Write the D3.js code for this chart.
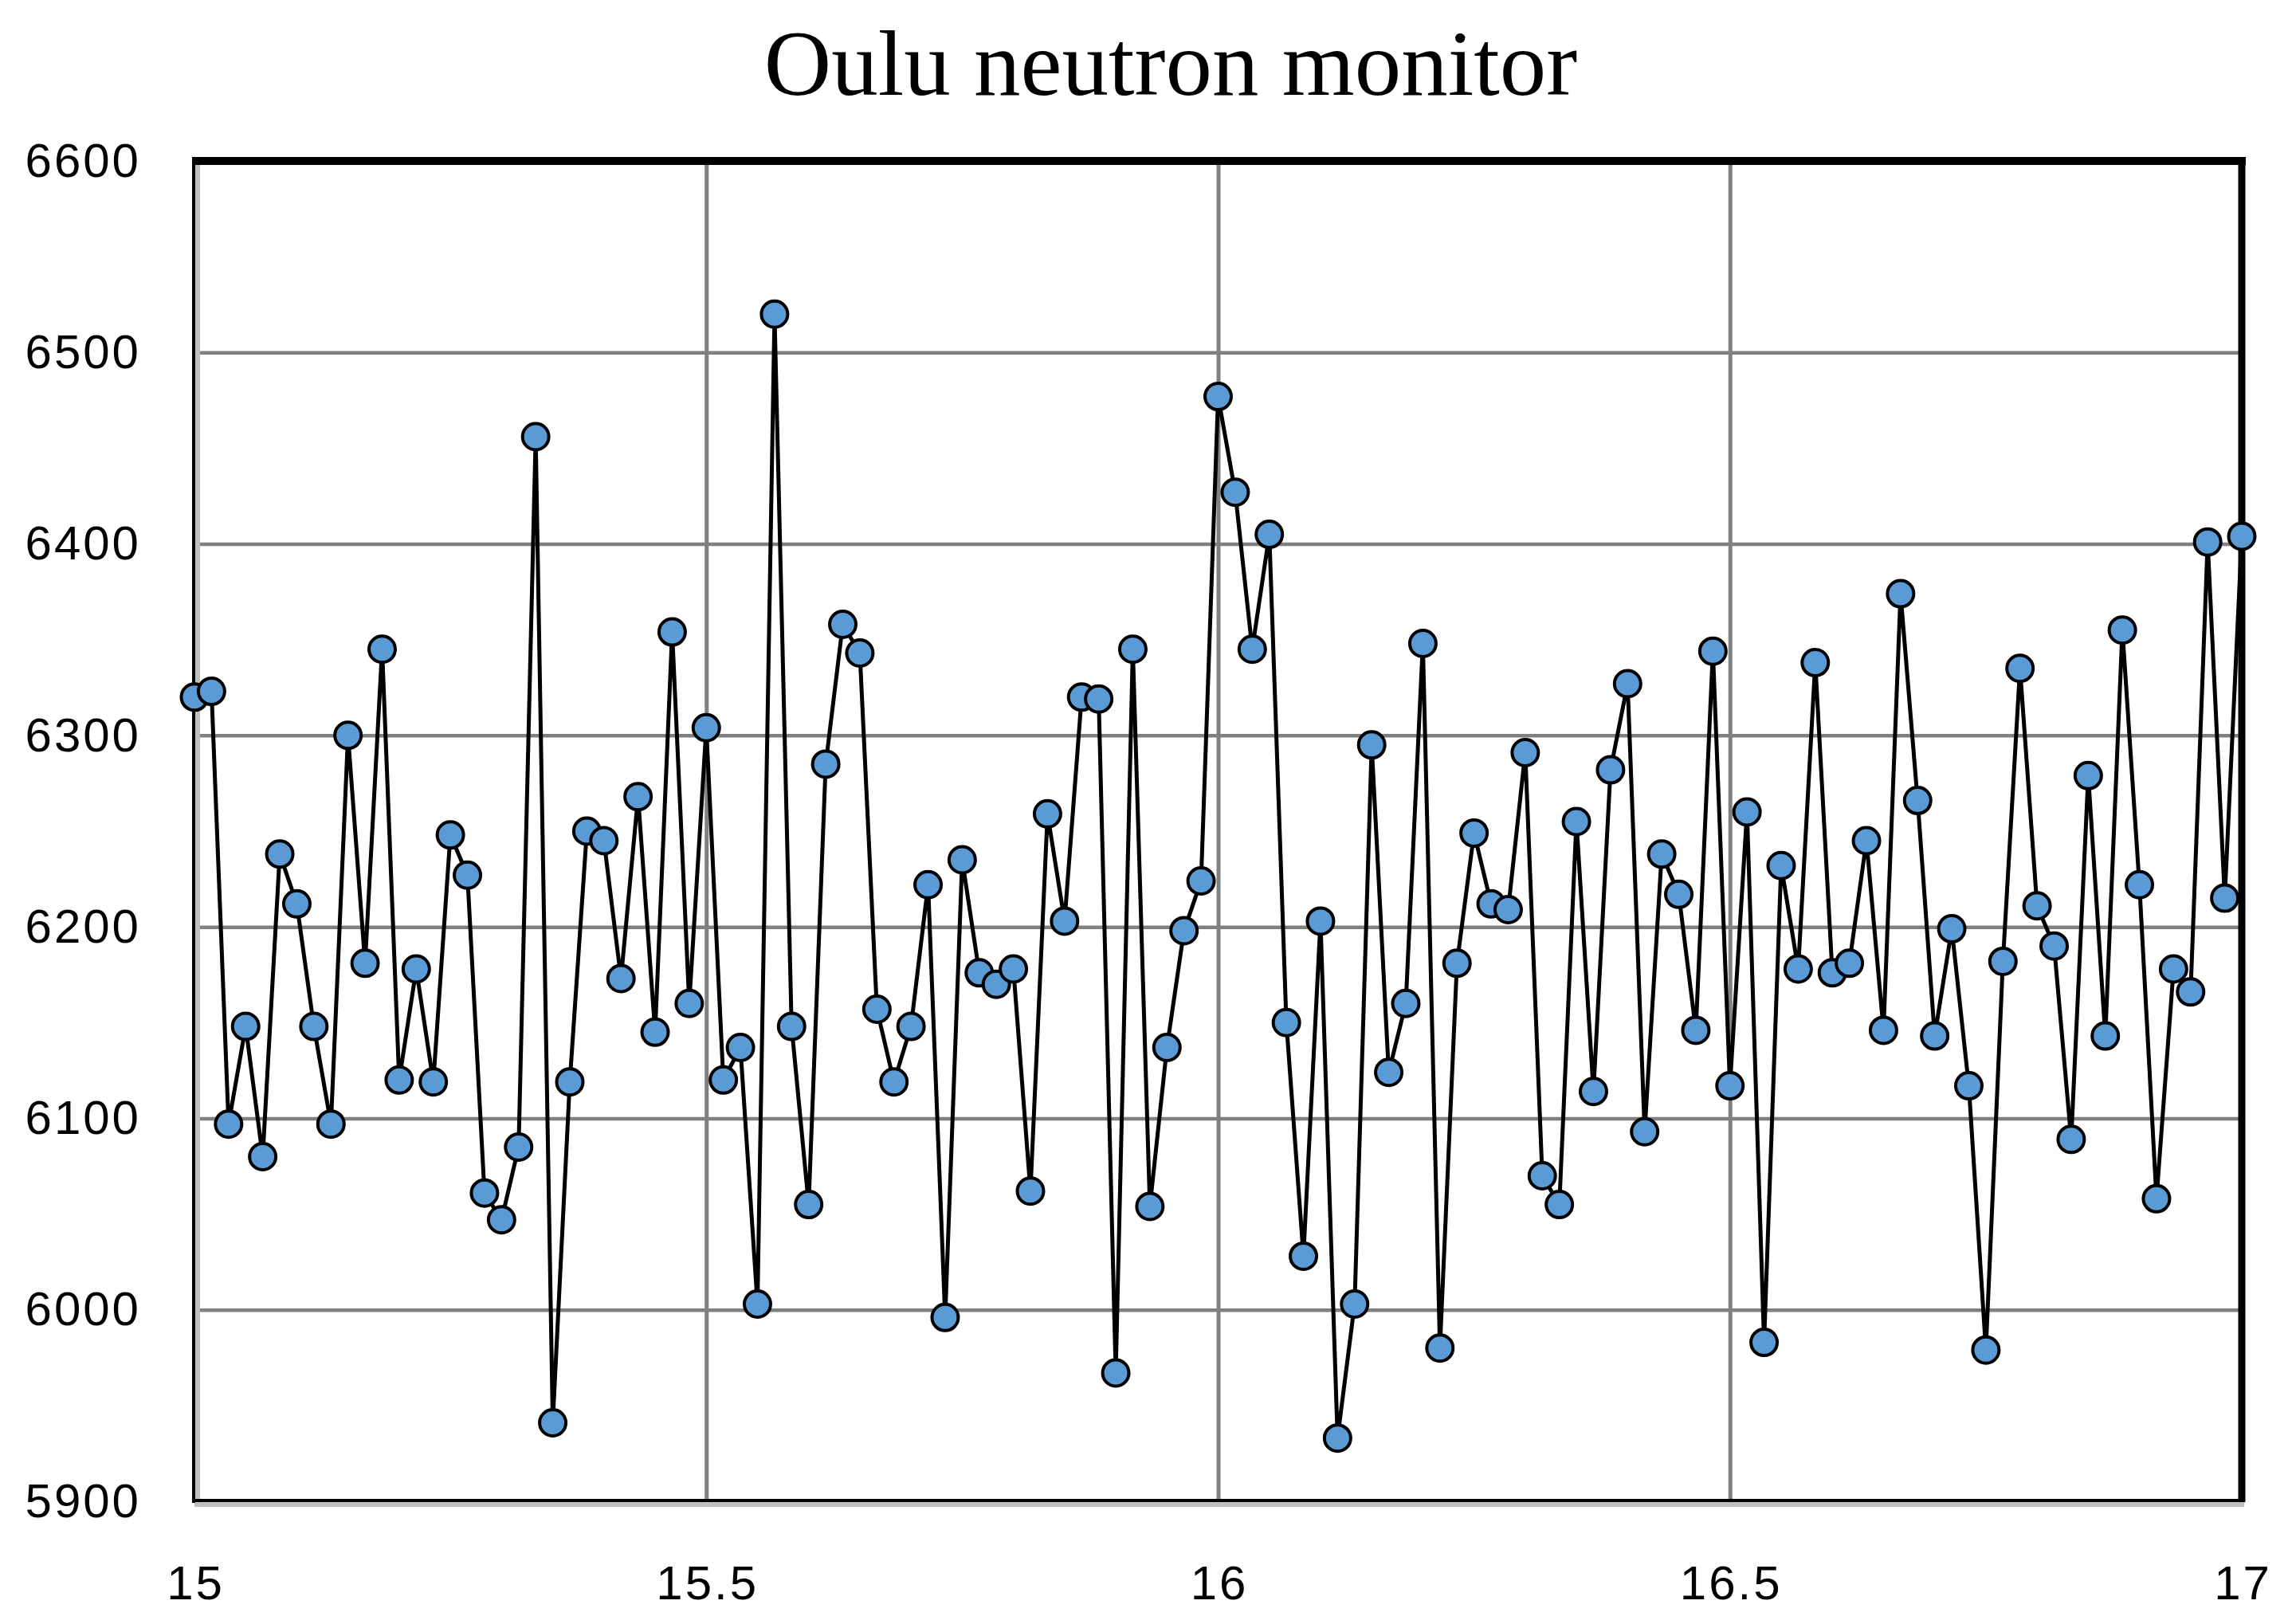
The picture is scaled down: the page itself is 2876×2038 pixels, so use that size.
<!DOCTYPE html>
<html>
<head>
<meta charset="utf-8">
<script src="https://cdn.jsdelivr.net/npm/d3@7/dist/d3.min.js"></script>
<style>
  html, body { margin: 0; padding: 0; background: #fff; }
  svg { display: block; }
</style>
</head>
<body>
<svg id="chart" width="2876" height="2038"></svg>
<script>
// ---- data ----
const title = "Oulu neutron monitor";
const xStart = 15;
const xStep = 1 / 60;
const counts = [
  6320, 6323, 6097, 6148, 6080, 6238, 6212, 6148, 6097, 6300,
  6181, 6345, 6120, 6178, 6119, 6248, 6227, 6061, 6047, 6085,
  6456, 5941, 6119, 6250, 6245, 6173, 6268, 6145, 6354, 6160,
  6304, 6120, 6137, 6003, 6520, 6148, 6055, 6285, 6358, 6343,
  6157, 6119, 6148, 6222, 5996, 6235, 6176, 6170, 6178, 6062,
  6259, 6203, 6320, 6319, 5967, 6345, 6054, 6137, 6198, 6224,
  6477, 6427, 6345, 6405, 6150, 6028, 6203, 5933, 6003, 6295,
  6124, 6160, 6348, 5980, 6181, 6249, 6212, 6209, 6291, 6070,
  6055, 6255, 6114, 6282, 6327, 6093, 6238, 6217, 6146, 6344,
  6117, 6260, 5983, 6232, 6178, 6338, 6176, 6181, 6245, 6146,
  6374, 6266, 6143, 6199, 6117, 5979, 6182, 6335, 6211, 6190,
  6089, 6279, 6143, 6355, 6222, 6058, 6178, 6166, 6401, 6215,
  6404
];
const xTicks = [15, 15.5, 16, 16.5, 17];
const xTickLabels = ["15", "15.5", "16", "16.5", "17"];
const yTicks = [5900, 6000, 6100, 6200, 6300, 6400, 6500, 6600];
const yTickLabels = ["5900", "6000", "6100", "6200", "6300", "6400", "6500", "6600"];

const points = counts.map((v, i) => ({ x: xStart + i * xStep, y: v }));

// ---- layout ----
const L = 244, R = 2813, T = 202, B = 1884;
const svg = d3.select("#chart");

const x = d3.scaleLinear().domain([15, 17]).range([L, R]);
const y = d3.scaleLinear().domain([5900, 6600]).range([B, T]);

// title
svg.append("text")
  .attr("x", 1469).attr("y", 119)
  .attr("text-anchor", "middle")
  .style("font-family", "'Liberation Serif', 'Times New Roman', serif")
  .style("font-size", "117px")
  .style("fill", "#000")
  .text(title);

const tickFont = sel => sel
  .style("font-family", "'Liberation Sans', Arial, sans-serif")
  .style("font-size", "60px")
  .style("letter-spacing", "3px")
  .attr("fill", "#000");

// horizontal gridlines + y labels
const yAxis = d3.axisLeft(y)
  .tickValues(yTicks)
  .tickFormat((d, i) => yTickLabels[i])
  .tickSize(-(R - L))
  .tickPadding(67);
const gy = svg.append("g").attr("transform", `translate(${L},0)`).call(yAxis);
gy.select(".domain").remove();
gy.selectAll(".tick line")
  .attr("stroke", "#808080").attr("stroke-width", 4.5)
  .attr("display", d => (d === 5900 || d === 6600) ? "none" : null);
gy.selectAll(".tick text").call(tickFont);

// vertical gridlines + x labels
const xAxis = d3.axisBottom(x)
  .tickValues(xTicks)
  .tickFormat((d, i) => xTickLabels[i])
  .tickSize(-(B - T))
  .tickPadding(80);
const gx = svg.append("g").attr("transform", `translate(0,${B})`).call(xAxis);
gx.select(".domain").remove();
gx.selectAll(".tick line")
  .attr("stroke", "#808080").attr("stroke-width", 5)
  .attr("display", d => (d === 15 || d === 17) ? "none" : null);
gx.selectAll(".tick text").call(tickFont).attr("dx", "1px");

// frame: gray shadow on left and bottom, black borders
svg.append("rect").attr("x", L + 1).attr("y", T).attr("width", 6).attr("height", B - T + 6).attr("fill", "#bfbfbf");
svg.append("rect").attr("x", L).attr("y", B).attr("width", R - L + 3).attr("height", 7).attr("fill", "#bfbfbf");
svg.append("line").attr("x1", L - 1).attr("x2", L - 1).attr("y1", T).attr("y2", B + 2)
  .attr("stroke", "#000").attr("stroke-width", 4);
svg.append("line").attr("x1", L - 3).attr("x2", R + 4).attr("y1", B - 1).attr("y2", B - 1)
  .attr("stroke", "#000").attr("stroke-width", 4);
svg.append("line").attr("x1", L - 3).attr("x2", R + 5).attr("y1", T).attr("y2", T)
  .attr("stroke", "#000").attr("stroke-width", 10);
svg.append("line").attr("x1", R).attr("x2", R).attr("y1", T - 5).attr("y2", B + 1)
  .attr("stroke", "#000").attr("stroke-width", 9);

// line
const line = d3.line().x(d => x(d.x)).y(d => y(d.y));
svg.append("path")
  .datum(points)
  .attr("d", line)
  .attr("fill", "none")
  .attr("stroke", "#000")
  .attr("stroke-width", 5)
  .attr("stroke-linejoin", "miter");

// markers
svg.append("g").selectAll("circle")
  .data(points)
  .join("circle")
  .attr("cx", d => x(d.x))
  .attr("cy", d => y(d.y))
  .attr("r", 16.5)
  .attr("fill", "#5b9bd5")
  .attr("stroke", "#000")
  .attr("stroke-width", 4);
</script>
</body>
</html>
